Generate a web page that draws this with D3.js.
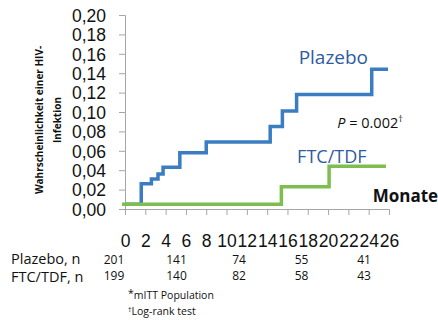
<!DOCTYPE html>
<html>
<head>
<meta charset="utf-8">
<script src="https://cdn.jsdelivr.net/npm/d3@7"></script>
<style>
  html, body { margin: 0; padding: 0; background: #fff; }
  svg { display: block; font-family: "Open Sans", sans-serif; }
</style>
</head>
<body>
<div id="chart"></div>
<script>
// x ticks (Monate) and y ticks
const monthTicks = [0, 2, 4, 6, 8, 10, 12, 14, 16, 18, 20, 22, 24, 26];
const probTicks = [0, 0.02, 0.04, 0.06, 0.08, 0.10, 0.12, 0.14, 0.16, 0.18, 0.20];

// Kaplan-Meier steps (Zeitpunkt in Monaten, Wahrscheinlichkeit)
const plazeboTime = [0, 1.6, 2.6, 3.25, 3.75, 5.4, 8.0, 14.3, 15.5, 16.9, 24.3, 25.9];
const plazeboProb = [0.005, 0.026, 0.031, 0.036, 0.043, 0.058, 0.069, 0.085, 0.101, 0.118, 0.144, 0.144];
const ftcTime = [-0.3, 15.4, 20.1, 25.7];
const ftcProb = [0.005, 0.023, 0.044, 0.044];

// Patienten unter Risiko
const riskMonths = [0, 6, 12, 18, 24];
const plazeboRisk = [201, 141, 74, 55, 41];
const ftcRisk = [199, 140, 82, 58, 43];

const width = 438, height = 320;
const blue = '#3b7dc3', green = '#7dbe4f', labelBlue = '#2f5c9f';

const svg = d3.select('#chart').append('svg')
  .attr('width', width)
  .attr('height', height);

const x = d3.scaleLinear().domain([0, 26]).range([125, 389]);
const y = d3.scaleLinear().domain([0, 0.2]).range([209, 15]);

// Achsen
const yAxis = svg.append('g')
  .attr('transform', `translate(${x(0)},0)`)
  .call(d3.axisLeft(y).tickValues(probTicks).tickSize(6).tickPadding(13)
    .tickFormat(d => d3.format('.2f')(d).replace('.', ',')));
yAxis.select('.domain').attr('stroke', '#a6a6a6');
yAxis.selectAll('.tick line').attr('stroke', '#a6a6a6');
yAxis.selectAll('.tick text')
  .attr('fill', '#111')
  .style('font-size', '17.5px')
  .attr('dy', '0.36em');

const xAxis = svg.append('g')
  .attr('transform', `translate(0,${y(0)})`)
  .call(d3.axisBottom(x).tickValues(monthTicks).tickSize(6).tickSizeOuter(0).tickPadding(20));
xAxis.select('.domain').attr('stroke', '#a6a6a6');
xAxis.selectAll('.tick line').attr('stroke', '#a6a6a6');
xAxis.selectAll('.tick text')
  .attr('fill', '#111')
  .style('font-size', '17.5px');

// Achsentitel
const yTitle = svg.append('text')
  .attr('transform', `translate(43,${120}) rotate(-90)`)
  .attr('text-anchor', 'middle')
  .style('font-size', '10px')
  .style('font-weight', 'bold')
  .attr('fill', '#111');
yTitle.append('tspan').attr('x', 0).attr('y', 0).text('Wahrscheinlichkeit einer HIV-');
yTitle.append('tspan').attr('x', 0).attr('y', 18).text('Infektion');

// Kurven
const line = d3.line()
  .x(d => x(d[0]))
  .y(d => y(d[1]))
  .curve(d3.curveStepAfter);

svg.append('path')
  .datum(plazeboTime.map((t, i) => [t, plazeboProb[i]]))
  .attr('fill', 'none')
  .attr('stroke', blue)
  .attr('stroke-width', 3.5)
  .attr('d', line);

svg.append('path')
  .datum(ftcTime.map((t, i) => [t, ftcProb[i]]))
  .attr('fill', 'none')
  .attr('stroke', green)
  .attr('stroke-width', 3.5)
  .attr('d', line);

// Beschriftungen
svg.append('text')
  .attr('x', x(17.1)).attr('y', y(0.150))
  .attr('fill', labelBlue)
  .style('font-size', '19px')
  .text('Plazebo');

svg.append('text')
  .attr('x', x(16.95)).attr('y', y(0.047))
  .attr('fill', labelBlue)
  .style('font-size', '18px')
  .text('FTC/TDF');

const pText = svg.append('text')
  .attr('x', x(20.9)).attr('y', y(0.083))
  .attr('fill', '#111')
  .style('font-size', '14.5px');
pText.append('tspan').style('font-style', 'italic').text('P');
pText.append('tspan').text(' = 0.002');
pText.append('tspan').attr('dy', -6).style('font-size', '9px').text('†');

svg.append('text')
  .attr('x', x(24.4)).attr('y', y(0.007))
  .attr('fill', '#111')
  .style('font-size', '17px')
  .style('font-weight', 'bold')
  .text('Monate');

// Tabelle: Anzahl unter Risiko
const col = d3.scalePoint().domain(riskMonths).range([114, 364]);

svg.append('text').attr('x', 11).attr('y', 264)
  .style('font-size', '14.5px').attr('fill', '#111').text('Plazebo, n');
svg.append('text').attr('x', 11).attr('y', 282)
  .style('font-size', '14.5px').attr('fill', '#111').text('FTC/TDF, n');

svg.selectAll('.risk-pl')
  .data(plazeboRisk)
  .enter()
  .append('text')
  .attr('x', (d, i) => col(riskMonths[i]))
  .attr('y', 264)
  .attr('text-anchor', 'middle')
  .style('font-size', '12px')
  .attr('fill', '#111')
  .text(d => d);

svg.selectAll('.risk-ftc')
  .data(ftcRisk)
  .enter()
  .append('text')
  .attr('x', (d, i) => col(riskMonths[i]))
  .attr('y', 280)
  .attr('text-anchor', 'middle')
  .style('font-size', '12px')
  .attr('fill', '#111')
  .text(d => d);

// Fussnoten
const fn1 = svg.append('text').attr('x', 128).attr('y', 299)
  .style('font-size', '10.5px').attr('fill', '#111');
fn1.append('tspan').attr('dy', -2).text('*');
fn1.append('tspan').attr('dy', 2).text('mITT Population');

const fn2 = svg.append('text').attr('x', 128).attr('y', 315)
  .style('font-size', '10.5px').attr('fill', '#111');
fn2.append('tspan').attr('dy', -3).style('font-size', '7px').text('†');
fn2.append('tspan').attr('dy', 3).text('Log-rank test');
</script>
</body>
</html>
